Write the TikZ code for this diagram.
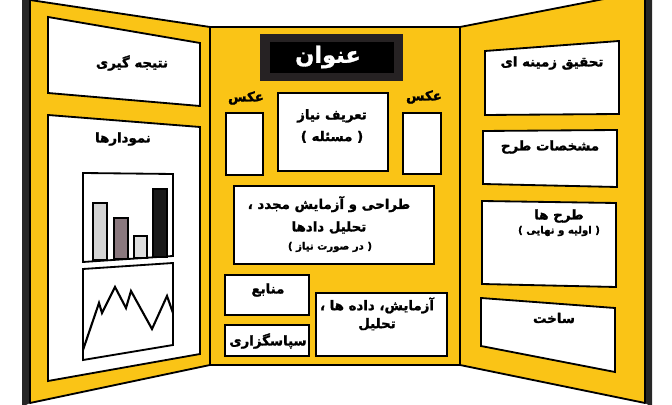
\documentclass[tikz,border=0pt]{standalone}
\usepackage{fontspec}
\usetikzlibrary{fit}
\newfontfamily\fa[Script=Arabic,BoldFeatures={FakeBold=1.5}]{DejaVu Sans}
\TeXXeTstate=1
\definecolor{board}{RGB}{250,196,22}
\definecolor{darktitle}{RGB}{38,34,35}
\definecolor{barlight}{RGB}{212,212,212}
\definecolor{barmauve}{RGB}{138,120,126}
\definecolor{barpale}{RGB}{222,222,222}
\newcommand{\rl}[1]{\beginR #1\endR}
\tikzset{
    panel/.style={
    draw=black,fill=board,line width=1.3pt,line join=round
    },
    edge/.style={
    fill=black!85
    },
    card/.style={
    draw=black,fill=white,line width=1.3pt,inner sep=0pt
    },
    txt/.style={
    font=\fa\bfseries\fontsize{9.5}{13}\selectfont,align=center,inner sep=0pt
    },
    small/.style={
    font=\fa\bfseries\fontsize{7.2}{10}\selectfont,align=center,inner sep=0pt
    },
    bar/.style={
    draw=black,line width=1pt
    },
}

\begin{document}
\begin{tikzpicture}[x=0.025cm, y=-0.025cm]
   \useasboundingbox (0,0) rectangle (672,405);
   \clip (0,0) rectangle (672,405);

   % left panel
   \fill[edge] (22,-3) -- (30,0) -- (30,403) -- (22,407) -- cycle;
   \draw[panel] (30,0) -- (210,27) -- (210,365) -- (30,403) -- cycle;
   \draw[card] (48,17) -- (200,43) -- (200,106) -- (48,93) -- cycle;
   \draw[card] (48,115) -- (200,127) -- (200,354) -- (48,381) -- cycle;
   \node[txt] (result) at (132,63) {\rl{نتیجه گیری}};
   \node[txt] (charts) at (123,139) {\rl{نمودارها}};

   % bar chart
   \draw[card] (83,173) -- (173,174) -- (173,256) -- (83,262) -- cycle;
   \filldraw[bar,fill=barlight] (93,260) rectangle (107,203);
   \filldraw[bar,fill=barmauve] (114,259) rectangle (128,218);
   \filldraw[bar,fill=barpale] (134,258) rectangle (147,236);
   \filldraw[bar,fill=black!90] (153,257) rectangle (167,189);

   % line chart
   \draw[card] (83,269) -- (173,263) -- (173,345) -- (83,360) -- cycle;
   \draw[line width=1.5pt,line join=miter] (83,350) -- (99,303) -- (102,313) -- (115,287)
        -- (126,308) -- (131,291) -- (152,329) -- (167,296) -- (173,313);

   % right panel
   \fill[edge] (645,-9) -- (652,-9) -- (652,407) -- (645,403) -- cycle;
   \draw[panel] (460,27) -- (645,-9) -- (645,403) -- (460,365) -- cycle;
   \draw[card] (485,51) -- (619,41) -- (619,114) -- (485,115) -- cycle;
   \draw[card] (483,131) -- (617,130) -- (617,187) -- (483,184) -- cycle;
   \draw[card] (482,201) -- (616,203) -- (616,287) -- (482,284) -- cycle;
   \draw[card] (481,298) -- (615,308) -- (615,372) -- (481,346) -- cycle;
   \node[txt] (research) at (552,63) {\rl{تحقیق زمینه ای}};
   \node[txt] (specs) at (550,147) {\rl{مشخصات طرح}};
   \node[txt] (designs) at (559,216) {\rl{طرح ها}};
   \node[small] (designsub) at (559,231) {\rl{( اولیه و نهایی )}};
   \node[txt] (build) at (554,318) {\rl{ساخت}};

   % center panel
   \draw[panel] (210,27) rectangle (460,365);
   \node[fill=darktitle,inner sep=0pt,fit={(260,34) (403,81)}] (titlebox) {};
   \node[fill=black,inner sep=0pt,fit={(270,42) (394,73)}] (titlein) {};
   \node[txt,text=white,font=\fa\bfseries\fontsize{16}{20}\selectfont] (title) at (328,57) {\rl{عنوان}};

   \node[txt] (photo1) at (246,98) {\rl{عکس}};
   \node[txt] (photo2) at (424,97) {\rl{عکس}};
   \node[card,fit={(226,113) (263,175)}] (photobox1) {};
   \node[card,fit={(403,113) (441,174)}] (photobox2) {};

   \node[card,fit={(278,93) (388,171)}] (need) {};
   \node[txt,font=\fa\bfseries\fontsize{9.5}{15.5}\selectfont] (needtxt) at (332,126) {\rl{تعریف نیاز}\\\rl{( مسئله )}};

   \node[card,fit={(234,186) (434,264)}] (redesign) {};
   \node[txt,font=\fa\bfseries\fontsize{9.5}{16}\selectfont] (redesigntxt) at (329,215) {\rl{طراحی و آزمایش مجدد ،}\\\rl{تحلیل دادها}};
   \node[small] (redesignsub) at (330,247) {\rl{( در صورت نیاز )}};

   \node[card,fit={(225,275) (309,315)}] (sources) {};
   \node[txt] (sourcestxt) at (268,290) {\rl{منابع}};
   \node[card,fit={(225,325) (309,356)}] (thanks) {};
   \node[txt] (thankstxt) at (268,341) {\rl{سپاسگزاری}};

   \node[card,fit={(316,293) (447,356)}] (test) {};
   \node[txt,font=\fa\bfseries\fontsize{9.5}{12.8}\selectfont] (testtxt) at (377,314) {\rl{آزمایش، داده ها ،}\\\rl{تحلیل}};
\end{tikzpicture}
\end{document}
